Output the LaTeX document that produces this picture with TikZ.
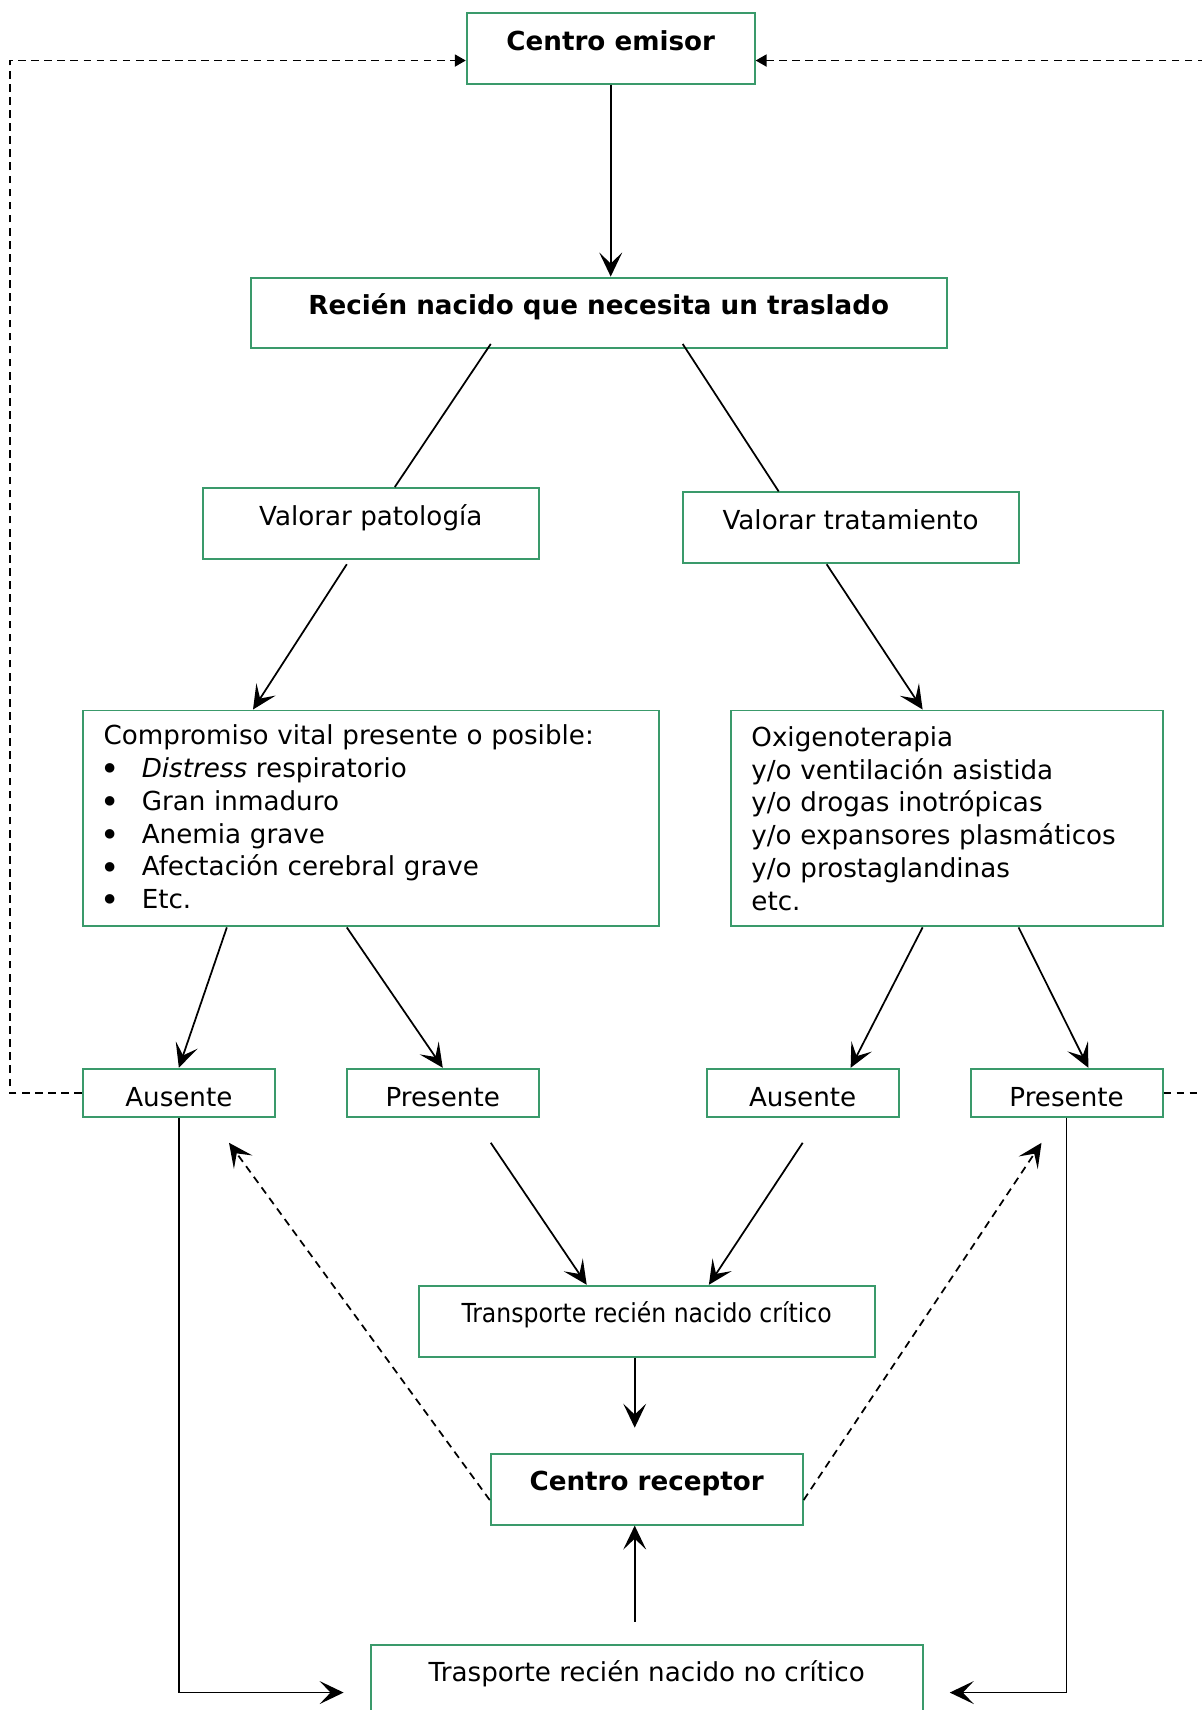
\documentclass[tikz,border=0pt]{standalone}
\usepackage{fontspec}
\setmainfont{DejaVu Sans}
\newfontfamily\condfont{DejaVu Sans Condensed}
\usetikzlibrary{arrows.meta,calc}
\definecolor{frame}{HTML}{3A9A6B}
\definecolor{ink}{HTML}{000000}
\tikzset{
  >={Stealth[length=11pt,width=10.5pt,inset=5pt]},
  every node/.style={font=\fontsize{12}{15}\selectfont,text=ink},
  box/.style={draw=frame,line width=0.9pt,inner sep=0pt,align=center},
  tallbox/.style={box,minimum height=32.5pt,text height=17pt,text depth=15.5pt},
  smallbox/.style={box,minimum width=88pt,minimum height=22pt,text height=15pt,text depth=2pt},
  listbox/.style={box,align=left,minimum height=99pt,inner xsep=9.5pt},
  arrow/.style={->,line width=0.8pt,draw=ink},
  link/.style={line width=0.8pt,draw=ink},
  dasharrow/.style={->,line width=0.8pt,dash pattern=on 3.5pt off 2.5pt},
  retorno/.style={-{Triangle[length=5pt,width=5.5pt]},line width=0.8pt,dash pattern=on 3.5pt off 2.5pt},
}
\newcommand{\punto}[1]{\hspace*{-1.45pt}\makebox[18.95pt][l]{\raisebox{-1.5pt}{\fontsize{15}{15}\selectfont\textbullet}}#1}

\begin{document}
\begin{tikzpicture}[x=0.5pt,y=-0.5pt]

\path[use as bounding box] (0,0) rectangle (1102,1568);
\clip (0,0) rectangle (1102,1568);

\node[tallbox,minimum width=132pt] (emisor) at (560,44.5) {\textbf{Centro emisor}};
\node[tallbox,minimum width=319pt] (rn) at (549,287) {\textbf{Recién nacido que necesita un traslado}};
\node[tallbox,minimum width=154pt] (vpat) at (340,480) {Valorar patología};
\node[tallbox,minimum width=154pt] (vtrat) at (780,484) {Valorar tratamiento};

\node[listbox,text width=245pt] (comp) at (340,750.5)
{Compromiso vital presente o posible:\\
\punto{\textit{Distress} respiratorio}\\
\punto{Gran inmaduro}\\
\punto{Anemia grave}\\
\punto{Afectación cerebral grave}\\
\punto{Etc.}};
\node[listbox,text width=179pt] (oxi) at (868,750.5)
{Oxigenoterapia\\
y/o ventilación asistida\\
y/o drogas inotrópicas\\
y/o expansores plasmáticos\\
y/o prostaglandinas\\
etc.};

\node[smallbox] (aus1) at (164,1002) {Ausente};
\node[smallbox] (pres1) at (406,1002) {Presente};
\node[smallbox] (aus2) at (736,1002) {Ausente};
\node[smallbox] (pres2) at (978,1002) {Presente};

\node[tallbox,minimum width=209pt] (crit) at (593,1211.5) {\condfont Transporte recién nacido crítico};
\node[tallbox,minimum width=143pt] (recep) at (593,1365.5) {\textbf{Centro receptor}};
\node[tallbox,minimum width=253pt] (nocrit) at (593,1540.5) {Trasporte recién nacido no crítico};

\draw[arrow] (emisor.south) -- (emisor.south |- rn.north);
\draw[link] ($(rn.south)+(-99,-5)$) -- ($(vpat.north)+(22,0)$);
\draw[link] ($(rn.south)+(77,-5)$) -- ($(vtrat.north)+(-66,0)$);
\draw[arrow] ($(vpat.south)+(-22,4)$) -- ($(comp.north)+(-108,0)$);
\draw[arrow] ($(vtrat.south)+(-22,0)$) -- ($(oxi.north)+(-22,0)$);
\draw[arrow] ($(comp.south)+(-132,0)$) -- (aus1.north);
\draw[arrow] ($(comp.south)+(-22,0)$) -- (pres1.north);
\draw[arrow] ($(oxi.south)+(-22,0)$) -- ($(aus2.north)+(44,0)$);
\draw[arrow] ($(oxi.south)+(66,0)$) -- ($(pres2.north)+(20,0)$);
\draw[arrow] ($(pres1.south)+(44,23)$) -- ($(crit.north)+(-55,0)$);
\draw[arrow] ($(aus2.south)+(0,23)$) -- ($(crit.north)+(57,0)$);
\draw[arrow] ($(crit.south)+(-11,0)$) -- ($(recep.north)+(-11,-23)$);
\draw[arrow] ($(nocrit.north)+(-11,-20)$) -- ($(recep.south)+(-11,0)$);
\draw[arrow] (aus1.south) |- ($(nocrit.west)+(-24,11.5)$);
\draw[arrow] (pres2.south) |- ($(nocrit.east)+(24,11.5)$);
\draw[dasharrow] ($(recep.west)+(0,10)$) -- ($(aus1.south)+(46,23)$);
\draw[dasharrow] ($(recep.east)+(0,10)$) -- ($(pres2.south)+(-23,23)$);
\draw[retorno] (aus1.west) -- ++(-66,0) |- ($(emisor.west)+(0,11)$);
\draw[retorno] (pres2.east) -- ++(50,0) |- ($(emisor.east)+(0,11)$);

\end{tikzpicture}
\end{document}
